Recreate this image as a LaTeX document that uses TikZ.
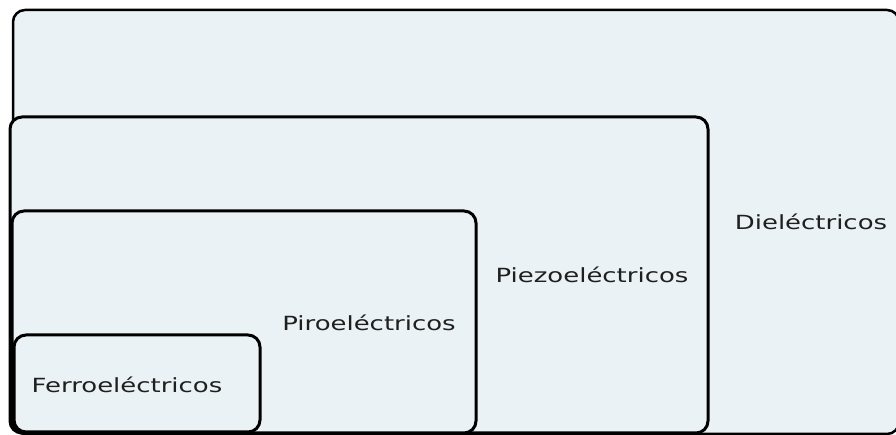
\documentclass[tikz,border=0pt]{standalone}
\usepackage{fontspec}
\newfontfamily\lblfont[FakeStretch=1.33]{DejaVu Sans}
\definecolor{boxfill}{HTML}{EAF2F5}
\begin{document}
\begin{tikzpicture}[x=1pt,y=1pt,
  setbox/.style={fill=boxfill, draw=black, line width=3pt, rounded corners=12pt},
  lbl/.style={font=\lblfont\fontsize{19.5}{22}\selectfont, text=black!88, anchor=base, inner sep=0pt}]
\useasboundingbox (0,0) rectangle (896,435);
\fill[white] (0,0) rectangle (896,435);
\clip (0,0) rectangle (896,435);
\draw[setbox, line width=2.5pt] (13,1) rectangle (899,425);
\draw[setbox] (10,2) rectangle (708,318);
\draw[setbox] (12,2) rectangle (476,224);
\draw[setbox] (14,3) rectangle (260,100);
\node[lbl] (die) at (811,205) {Dieléctricos};
\node[lbl] (piezo) at (592,152) {Piezoeléctricos};
\node[lbl] (piro) at (369,104) {Piroeléctricos};
\node[lbl] (ferro) at (127,42) {Ferroeléctricos};
\end{tikzpicture}
\end{document}
